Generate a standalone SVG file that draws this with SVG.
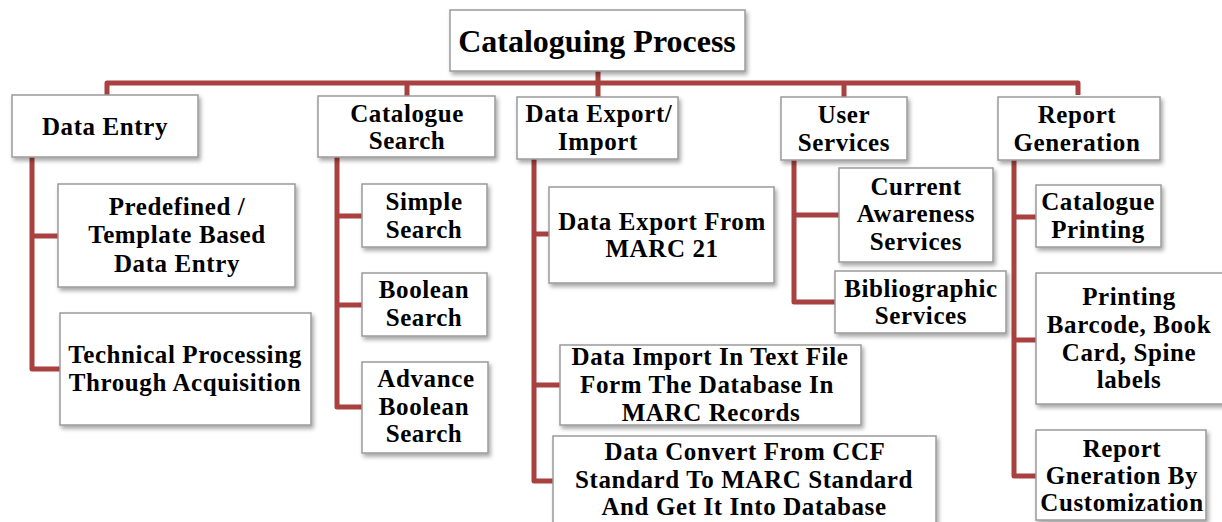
<svg xmlns="http://www.w3.org/2000/svg" width="1222" height="522" viewBox="0 0 1222 522">
<defs>
<filter id="sh" x="-10%" y="-10%" width="130%" height="140%">
<feDropShadow dx="2" dy="3" stdDeviation="2" flood-color="#000" flood-opacity="0.35"/>
</filter>
<style>
.box{fill:#fff;stroke:#9a9a9a;stroke-width:1.5;filter:url(#sh)}
.t{font-family:"Liberation Serif","Times New Roman",serif;font-weight:bold;font-size:25px;letter-spacing:0.6px;fill:#000;text-anchor:middle}
.root{font-size:32px;letter-spacing:0}
.c{fill:none;stroke:#a8413f;stroke-width:5;stroke-linejoin:round;stroke-linecap:butt}
</style>
</defs>
<rect width="1222" height="522" fill="#fff"/>
<g id="connectors">
<path class="c" d="M598 71V83M107 95V83H1078V95M407 83V96M598 83V97M844 83V97"/>
<path class="c" d="M32 157V369H60M32 236H58"/>
<path class="c" d="M337 157V407H362M337 216H362M337 305H362"/>
<path class="c" d="M534 159V481H553M534 234H549M534 385H560"/>
<path class="c" d="M794 160V302H835M794 215H839"/>
<path class="c" d="M1014 160V476H1036M1014 217H1036M1014 340H1036"/>
</g>
<g id="root"><rect class="box" x="450" y="10" width="295" height="61"/><text class="t root" x="597" y="52">Cataloguing Process</text></g>
<g id="data-entry"><rect class="box" x="12" y="95" width="186" height="62"/><text class="t" x="105" y="135">Data Entry</text></g>
<g id="catalogue-search"><rect class="box" x="318" y="96" width="177" height="61"/><text class="t" x="407" y="122">Catalogue</text><text class="t" x="407" y="149">Search</text></g>
<g id="data-export-import"><rect class="box" x="517" y="97" width="161" height="62"/><text class="t" x="599" y="122">Data Export/</text><text class="t" x="598" y="150">Import</text></g>
<g id="user-services"><rect class="box" x="781" y="97" width="126" height="63"/><text class="t" x="844" y="123">User</text><text class="t" x="844" y="151">Services</text></g>
<g id="report-generation"><rect class="box" x="998" y="97" width="162" height="63"/><text class="t" x="1077" y="123">Report</text><text class="t" x="1077" y="151">Generation</text></g>
<g id="predefined"><rect class="box" x="58" y="184" width="237" height="103"/><text class="t" x="177" y="215">Predefined /</text><text class="t" x="177" y="243">Template Based</text><text class="t" x="177" y="272">Data Entry</text></g>
<g id="technical"><rect class="box" x="60" y="313" width="251" height="112"/><text class="t" x="185" y="363">Technical Processing</text><text class="t" x="185" y="391">Through Acquisition</text></g>
<g id="simple-search"><rect class="box" x="362" y="184" width="125" height="63"/><text class="t" x="424" y="210">Simple</text><text class="t" x="424" y="238">Search</text></g>
<g id="boolean-search"><rect class="box" x="362" y="273" width="125" height="63"/><text class="t" x="424" y="298">Boolean</text><text class="t" x="424" y="326">Search</text></g>
<g id="advance-boolean-search"><rect class="box" x="362" y="362" width="126" height="91"/><text class="t" x="426" y="387">Advance</text><text class="t" x="424" y="415">Boolean</text><text class="t" x="424" y="442">Search</text></g>
<g id="data-export-marc"><rect class="box" x="549" y="187" width="225" height="96"/><text class="t" x="662" y="230">Data Export From</text><text class="t" x="662" y="257">MARC 21</text></g>
<g id="data-import"><rect class="box" x="560" y="345" width="301" height="80"/><text class="t" x="710" y="365">Data Import In Text File</text><text class="t" x="707" y="393">Form The Database In</text><text class="t" x="711" y="421">MARC Records</text></g>
<g id="data-convert"><rect class="box" x="553" y="436" width="383" height="96"/><text class="t" x="745" y="460">Data Convert From CCF</text><text class="t" x="744" y="488">Standard To MARC Standard</text><text class="t" x="744" y="515">And Get It Into Database</text></g>
<g id="current-awareness"><rect class="box" x="839" y="168" width="154" height="94"/><text class="t" x="916" y="195">Current</text><text class="t" x="916" y="222">Awareness</text><text class="t" x="916" y="250">Services</text></g>
<g id="bibliographic"><rect class="box" x="835" y="271" width="171" height="62"/><text class="t" x="921" y="297">Bibliographic</text><text class="t" x="921" y="324">Services</text></g>
<g id="catalogue-printing"><rect class="box" x="1036" y="185" width="125" height="62"/><text class="t" x="1098" y="210">Catalogue</text><text class="t" x="1098" y="238">Printing</text></g>
<g id="printing-barcode"><rect class="box" x="1036" y="273" width="190" height="131"/><text class="t" x="1129" y="305">Printing</text><text class="t" x="1129" y="333">Barcode, Book</text><text class="t" x="1129" y="361">Card, Spine</text><text class="t" x="1129" y="388">labels</text></g>
<g id="report-customization"><rect class="box" x="1036" y="430" width="170" height="90"/><text class="t" x="1122" y="457">Report</text><text class="t" x="1122" y="484">Gneration By</text><text class="t" x="1122" y="511">Customization</text></g>
</svg>
